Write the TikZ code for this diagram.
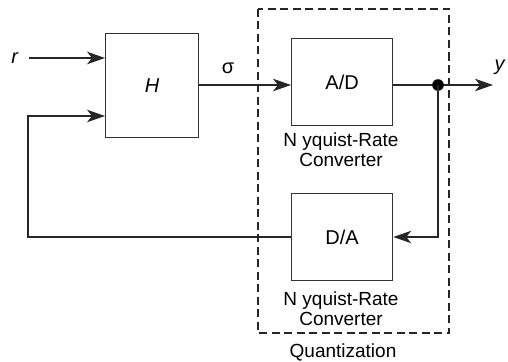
\documentclass[tikz,border=0pt]{standalone}
\usepackage{fontspec}
\setmainfont{Liberation Sans}
\usetikzlibrary{arrows.meta}
\begin{document}
\begin{tikzpicture}[x=1pt,y=-1pt,
  blk/.style={draw=black!80, line width=1.3pt, minimum width=101pt, anchor=north west, inner sep=0pt},
  wire/.style={draw=black!85, line width=1.3pt},
  arr/.style={wire, -{Stealth[length=18pt,width=12.5pt,inset=5pt]}},
  lbl/.style={font=\fontsize{20}{22}\selectfont, inner sep=0pt},
  txt/.style={font=\fontsize{19}{22}\selectfont, inner sep=0pt, align=center}]
\useasboundingbox (0,0) rectangle (508,361);
% dashed quantization box
\draw[black!85, line width=1.3pt, dash pattern=on 8pt off 4.5pt] (258,9) rectangle (449,333);
% blocks
\node[blk, minimum width=93pt, minimum height=104pt] (H) at (105,33) {};
\node[lbl] at (H.center) {\textit{H}};
\node[blk, minimum height=87pt] (AD) at (291,38) {};
\node[lbl] at (AD.center) {A/D};
\node[blk, minimum height=87pt] (DA) at (291,193) {};
\node[lbl] at (DA.center) {D/A};
\node[txt] (adl) at (341,150) {N yquist-Rate\\[-2pt]Converter};
\node[txt] (dal) at (341,309) {N yquist-Rate\\[-2pt]Converter};
\node[txt] (q) at (343,352) {Quantization};
% signal labels
\node[lbl] (r) at (15,58) {\textit{r}};
\node[lbl] (sig) at (228,68) {σ};
\node[lbl] (y) at (500,67) {\textit{y}};
% coordinates
\coordinate (rs) at (29,58);
\coordinate (dot) at (438,85);
\coordinate (yend) at (493,85);
\coordinate (fb1) at (28,237);
\coordinate (fb2) at (28,116);
\coordinate (dr) at (438,237);
% connectors
\draw[arr] (rs) -- (rs -| H.west);
\draw[arr] (H.east |- dot) -- (AD.west |- dot);
\draw[wire] (AD.east |- dot) -- (dot);
\draw[arr] (dot) -- (yend);
\fill[black] (dot) circle (5.8pt);
\draw[arr] (dot) -- (dr) -- (DA.east |- dr);
\draw[arr] (DA.west |- dr) -- (fb1) -- (fb2) -- (fb2 -| H.west);
\end{tikzpicture}
\end{document}
